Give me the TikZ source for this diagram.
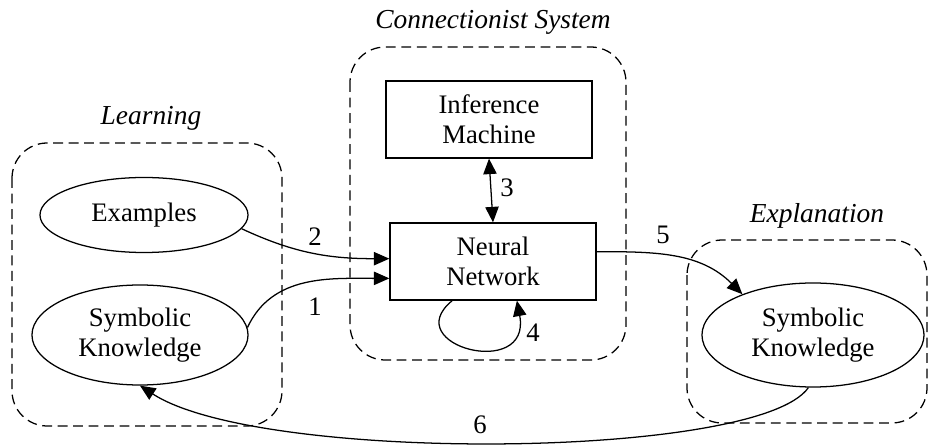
\documentclass[tikz,border=0pt]{standalone}
\usepackage{fontspec}
\setmainfont{Liberation Serif}
\usetikzlibrary{shapes.geometric,arrows.meta}

\begin{document}
\begin{tikzpicture}[x=0.025cm, y=-0.025cm, line width=0.9pt,
    font=\fontsize{19}{21.5}\selectfont,
    >={Triangle[length=11pt,width=9.5pt]},
    ovalbox/.style={draw, ellipse, align=center, inner sep=0pt},
    rectbox/.style={draw, rectangle, align=center, inner sep=0pt,
        minimum width=5.15cm, minimum height=1.925cm},
    groupbox/.style={draw, dash pattern=on 7pt off 4pt, rounded corners=25pt},
    grouptitle/.style={anchor=base, font=\fontsize{19.5}{21.5}\selectfont\itshape}]
    \useasboundingbox (0,0) rectangle (929,445);

    % dashed groups
    \draw[groupbox] (12,143) rectangle (282,426);
    \draw[groupbox] (350,47) rectangle (626,360);
    \draw[groupbox] (687,240) rectangle (927,423);
    \node[grouptitle] (learning) at (151,125) {Learning};
    \node[grouptitle] (connsys) at (493,29) {Connectionist System};
    \node[grouptitle] (explain) at (817,223) {Explanation};

    % nodes
    \node[ovalbox, minimum width=5.2cm, minimum height=1.875cm] (examples) at (144,215) {Examples};
    \node[ovalbox, minimum width=5.4cm, minimum height=2.5cm] (symin) at (140,335) {Symbolic\\Knowledge};
    \node[rectbox] (infer) at (489,119.5) {Inference\\Machine};
    \node[rectbox] (neural) at (493,261.5) {Neural\\Network};
    \node[ovalbox, minimum width=5.55cm, minimum height=2.6cm] (symout) at (813,335) {Symbolic\\Knowledge};

    % connections
    \draw[->] (symin.4) to[out=65, in=180] ([yshift=-12pt]neural.west);
    \draw[->] (examples.-8) to[out=-25, in=180] ([yshift=2pt]neural.west);
    \draw[<->] (infer.south) -- (neural.north);
    \draw[->] ([xshift=-29pt]neural.south) .. controls +(-55,45) and +(15,80) .. ([xshift=17pt]neural.south);
    \draw[->] ([yshift=7pt]neural.east) to[out=0, in=135] (symout.150);
    \draw[->] (symout.-95) .. controls +(-50,72) and +(120,78) .. (symin.south);

    % labels
    \node (lbl1) at (315,307) {1};
    \node (lbl2) at (315,237) {2};
    \node (lbl3) at (507,188) {3};
    \node (lbl4) at (533,333) {4};
    \node (lbl5) at (663,235) {5};
    \node (lbl6) at (480,425) {6};
\end{tikzpicture}
\end{document}
